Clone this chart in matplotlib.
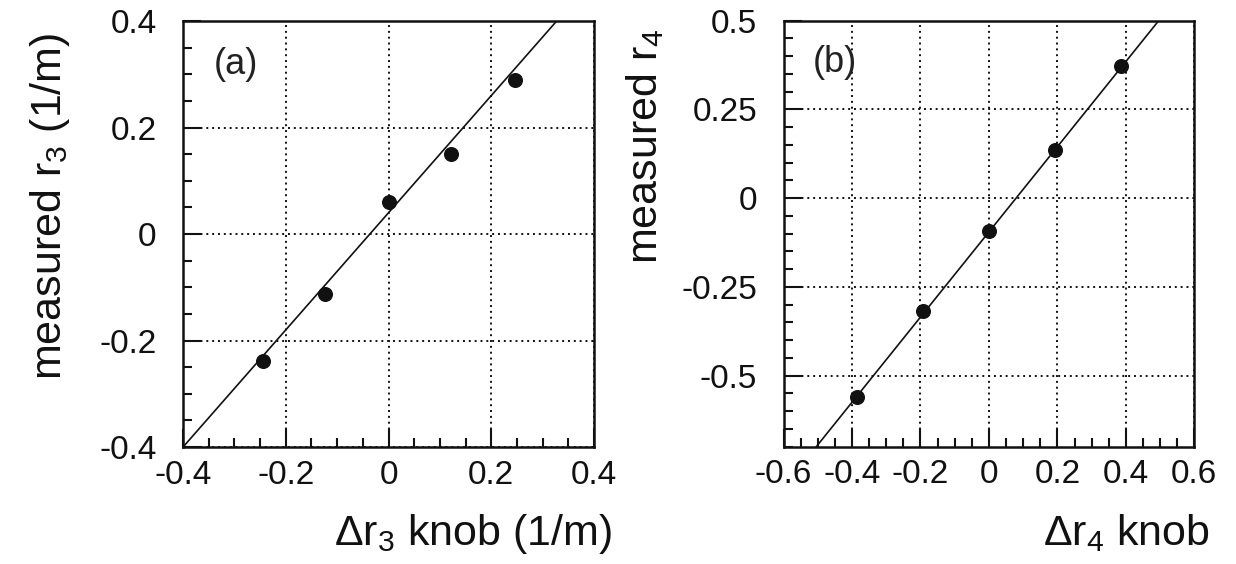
import matplotlib.pyplot as plt
from matplotlib.ticker import MultipleLocator, FixedLocator

plt.rcParams['font.family'] = ['Liberation Sans', 'DejaVu Sans']
plt.rcParams['mathtext.fontset'] = 'custom'
plt.rcParams['mathtext.rm'] = 'Liberation Sans'

# (a) r3 knob scan
knob_r3 = [-0.245, -0.124, 0.0, 0.122, 0.246]
meas_r3 = [-0.239, -0.113, 0.060, 0.150, 0.290]
fit_r3 = (1.10, 0.040)  # slope, offset

# (b) r4 knob scan
knob_r4 = [-0.385, -0.194, 0.0, 0.194, 0.386]
meas_r4 = [-0.560, -0.317, -0.092, 0.136, 0.371]
fit_r4 = (1.20, -0.095)

ticks_a = [-0.4, -0.2, 0, 0.2, 0.4]
ticks_bx = [-0.6, -0.4, -0.2, 0, 0.2, 0.4, 0.6]
ticks_by = [-0.5, -0.25, 0, 0.25, 0.5]

fig = plt.figure(figsize=(12.36, 5.64), dpi=100)
ax1 = fig.add_axes([0.1481, 0.2074, 0.3325, 0.7553])
ax2 = fig.add_axes([0.6339, 0.2080, 0.3324, 0.7553])


def style_panel(ax, xticks, yticks, xlim, ylim):
    ax.set_xlim(*xlim)
    ax.set_ylim(*ylim)
    ax.xaxis.set_major_locator(FixedLocator(xticks))
    ax.yaxis.set_major_locator(FixedLocator(yticks))
    ax.xaxis.set_minor_locator(MultipleLocator(0.05))
    ax.yaxis.set_minor_locator(MultipleLocator(0.05))
    ax.set_xticklabels(['0' if t == 0 else f'{t:g}' for t in xticks])
    ax.set_yticklabels(['0' if t == 0 else f'{t:g}' for t in yticks])
    ax.tick_params(which='both', direction='in', top=False, right=False,
                   width=1.5, colors='#111111', labelsize=24)
    ax.tick_params(which='major', length=13)
    ax.tick_params(which='minor', length=6.5)
    ax.tick_params(axis='y', pad=19)
    ax.tick_params(axis='x', pad=9)
    for s in ax.spines.values():
        s.set_linewidth(1.8)
        s.set_color('#111111')
    ax.grid(True, which='major', color='#111111', linestyle=(0, (1, 2)), linewidth=1.4)
    ax.set_axisbelow(True)


style_panel(ax1, ticks_a, ticks_a, (-0.4, 0.4), (-0.4, 0.4))
style_panel(ax2, ticks_bx, ticks_by, (-0.6, 0.6), (-0.7, 0.5))

for ax, x, y, (m, c) in [(ax1, knob_r3, meas_r3, fit_r3), (ax2, knob_r4, meas_r4, fit_r4)]:
    ax.axline((0, c), slope=m, color='#111111', linewidth=1.2)
    ax.plot(x, y, 'o', color='#111111', markersize=9.8, zorder=3)

ax1.text(0.075, 0.875, '(a)', transform=ax1.transAxes, fontsize=26, color='#222222')
ax2.text(0.07, 0.88, '(b)', transform=ax2.transAxes, fontsize=26, color='#222222')

fig.text(50 / 1236, 1 - 33 / 564, r'measured r$_\mathregular{3}$ (1/m)', rotation=90,
         ha='center', va='top', fontsize=31, color='#111111')
fig.text(645 / 1236, 1 - 28 / 564, r'measured r$_\mathregular{4}$', rotation=90,
         ha='center', va='top', fontsize=31, color='#111111')
fig.text(612 / 1236, 1 - 545 / 564, r'Δr$_\mathregular{3}$ knob (1/m)',
         ha='right', va='baseline', fontsize=31, color='#111111')
fig.text(1210 / 1236, 1 - 545 / 564, r'Δr$_\mathregular{4}$ knob',
         ha='right', va='baseline', fontsize=31, color='#111111')

fig.savefig('out.png', dpi=100)
